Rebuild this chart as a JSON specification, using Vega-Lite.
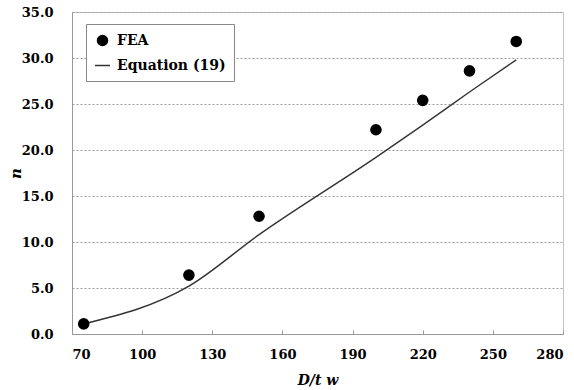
{
  "$schema": "https://vega.github.io/schema/vega-lite/v6.json",
  "width": 491,
  "height": 322,
  "autosize": "none",
  "padding": {"left": 72, "top": 12, "right": 11, "bottom": 56},
  "background": "white",
  "config": {
    "view": {"stroke": "#c4c4c4", "strokeWidth": 1},
    "font": "DejaVu Serif"
  },
  "datasets": {
    "fea": [
      {"D": 75, "n": 1.1, "series": "FEA"},
      {"D": 120, "n": 6.4, "series": "FEA"},
      {"D": 150, "n": 12.8, "series": "FEA"},
      {"D": 200, "n": 22.2, "series": "FEA"},
      {"D": 220, "n": 25.4, "series": "FEA"},
      {"D": 240, "n": 28.6, "series": "FEA"},
      {"D": 260, "n": 31.8, "series": "FEA"}
    ],
    "eq": [
      {"D": 75, "n": 1.1, "series": "Equation (19)"},
      {"D": 120, "n": 5.2, "series": "Equation (19)"},
      {"D": 150, "n": 10.8, "series": "Equation (19)"},
      {"D": 200, "n": 19.2, "series": "Equation (19)"},
      {"D": 220, "n": 22.7, "series": "Equation (19)"},
      {"D": 240, "n": 26.3, "series": "Equation (19)"},
      {"D": 260, "n": 29.8, "series": "Equation (19)"}
    ]
  },
  "encoding": {
    "x": {
      "field": "D",
      "type": "quantitative",
      "scale": {"domain": [70, 280], "nice": false, "zero": false},
      "axis": {
        "values": [70, 100, 130, 160, 190, 220, 250, 280],
        "grid": false,
        "domainColor": "#999999",
        "tickColor": "#999999",
        "tickSize": -4,
        "labelFont": "DejaVu Serif",
        "labelFontWeight": "bold",
        "labelFontSize": 13,
        "labelColor": "#000000",
        "labelPadding": 18,
        "title": "D/t w",
        "titleFont": "DejaVu Serif",
        "titleFontStyle": "italic",
        "titleFontWeight": "bold",
        "titleFontSize": 14,
        "titleColor": "#000000",
        "titleBaseline": "alphabetic",
        "titleY": 50
      }
    },
    "y": {
      "field": "n",
      "type": "quantitative",
      "scale": {"domain": [0, 35], "nice": false, "zero": true},
      "axis": {
        "values": [0, 5, 10, 15, 20, 25, 30, 35],
        "format": ".1f",
        "grid": true,
        "gridDash": [2, 2],
        "gridColor": "#9a9a9a",
        "gridWidth": 1,
        "ticks": false,
        "domainColor": "#999999",
        "labelFont": "DejaVu Serif",
        "labelFontWeight": "bold",
        "labelFontSize": 13,
        "labelColor": "#000000",
        "labelPadding": 19,
        "title": "n",
        "titleFont": "DejaVu Serif",
        "titleFontStyle": "italic",
        "titleFontWeight": "bold",
        "titleFontSize": 15,
        "titleColor": "#000000",
        "titleAngle": -90,
        "titleAlign": "center",
        "titleBaseline": "middle",
        "titleX": -57,
        "titleY": 161
      }
    }
  },
  "layer": [
    {
      "data": {"name": "eq"},
      "mark": {"type": "line", "interpolate": "monotone", "strokeWidth": 1.4, "color": "#333333"},
      "encoding": {
        "color": {
          "field": "series",
          "type": "nominal",
          "scale": {"domain": ["FEA", "Equation (19)"], "range": ["#000000", "#333333"]},
          "legend": {
            "orient": "none",
            "legendX": 14,
            "legendY": 12,
            "title": null,
            "strokeColor": "#888888",
            "fillColor": "#ffffff",
            "padding": 8,
            "rowPadding": 8,
            "labelOffset": 6,
            "labelFont": "DejaVu Serif",
            "labelFontWeight": "bold",
            "labelFontSize": 14,
            "labelColor": "#000000",
            "symbolSize": 120,
            "symbolType": "circle",
            "encode": {
              "symbols": {
                "update": {
                  "shape": {"signal": "datum.value === 'FEA' ? 'circle' : 'stroke'"},
                  "size": {"signal": "datum.value === 'FEA' ? 100 : 225"},
                  "fill": {"signal": "datum.value === 'FEA' ? '#000000' : 'transparent'"},
                  "stroke": {"signal": "datum.value === 'FEA' ? 'transparent' : '#333333'"},
                  "strokeWidth": {"value": 1.5},
                  "opacity": {"value": 1}
                }
              }
            }
          }
        }
      }
    },
    {
      "data": {"name": "fea"},
      "mark": {"type": "point", "filled": true, "size": 135, "opacity": 1, "color": "#000000"},
      "encoding": {
        "color": {"field": "series", "type": "nominal"}
      }
    }
  ]
}
